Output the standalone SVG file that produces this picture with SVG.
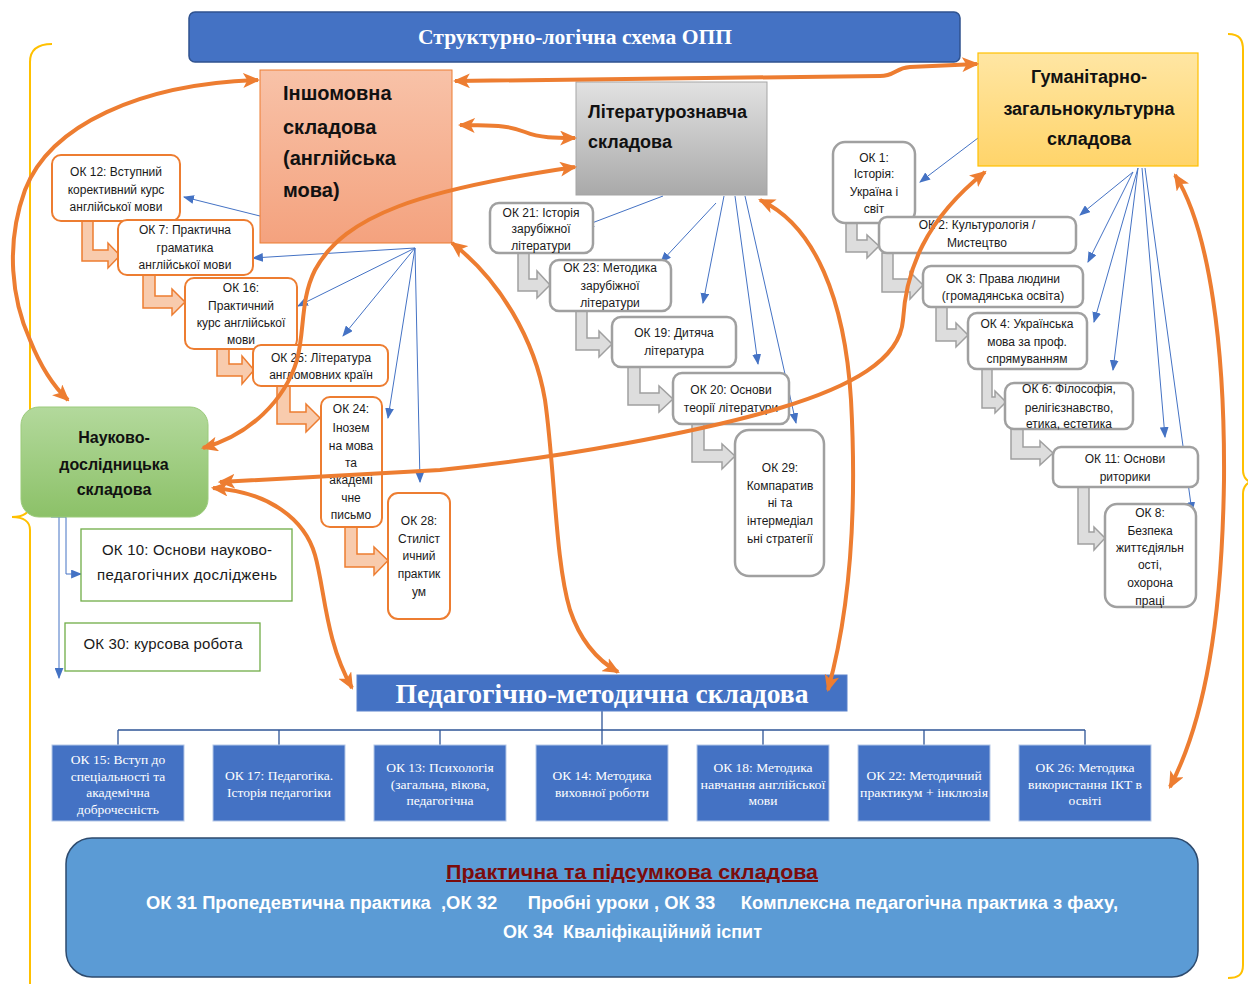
<svg xmlns="http://www.w3.org/2000/svg" width="1248" height="984" viewBox="0 0 1248 984">
<defs>
<linearGradient id="gSal" x1="0" y1="0" x2="0" y2="1"><stop offset="0" stop-color="#F8C2A8"/><stop offset="1" stop-color="#F4A27E"/></linearGradient>
<linearGradient id="gGray" x1="0" y1="0" x2="0" y2="1"><stop offset="0" stop-color="#E2E2E2"/><stop offset="1" stop-color="#A9A9A9"/></linearGradient>
<linearGradient id="gYel" x1="0" y1="0" x2="0" y2="1"><stop offset="0" stop-color="#FFE6A3"/><stop offset="1" stop-color="#FFD46A"/></linearGradient>
<linearGradient id="gGrn" x1="0" y1="0" x2="0" y2="1"><stop offset="0" stop-color="#B3D99C"/><stop offset="1" stop-color="#8CC168"/></linearGradient>
<marker id="oa" viewBox="0 0 16 14" markerUnits="userSpaceOnUse" markerWidth="17" markerHeight="15" refX="14" refY="7" orient="auto-start-reverse"><path d="M0,0 L16,7 L0,14 L4,7 Z" fill="#ED7D31"/></marker>
<marker id="ba" viewBox="0 0 10 8" markerUnits="userSpaceOnUse" markerWidth="11" markerHeight="9" refX="9" refY="4" orient="auto"><path d="M0,0 L10,4 L0,8 Z" fill="#4472C4"/></marker>
<style>
.t{font-family:"Liberation Sans",Arial,sans-serif;font-size:12px;fill:#1a1a1a;text-anchor:middle}
.t15{font-family:"Liberation Sans",Arial,sans-serif;font-size:15px;fill:#1a1a1a;text-anchor:middle}
.big{font-family:"Liberation Sans",Arial,sans-serif;font-weight:bold;fill:#111}
.ob{fill:#fff;stroke:#ED7D31;stroke-width:2}
.gb{fill:#fff;stroke:#A0A0A0;stroke-width:2.5}
.grb{fill:#fff;stroke:#70AD47;stroke-width:1.3}
.pb{fill:#4472C4;stroke:#B4C7E7;stroke-width:1}
.pt{font-family:"Liberation Serif","Times New Roman",serif;font-size:13.5px;fill:#fff;text-anchor:middle}
.oarr{fill:#F8CBAD;stroke:#ED7D31;stroke-width:1.5;stroke-linejoin:miter}
.garr{fill:#DDDDDD;stroke:#A0A0A0;stroke-width:1.5}
.bl{fill:none;stroke:#4472C4;stroke-width:1;marker-end:url(#ba)}
.or{fill:none;stroke:#ED7D31;stroke-width:4;marker-start:url(#oa);marker-end:url(#oa)}
.br{fill:none;stroke:#FFC000;stroke-width:2}
</style>
</defs>
<rect width="1248" height="984" fill="#fff"/>

<g id="braces">
<path class="br" d="M52,44 C38,44 30,50 30,62 L30,505 C30,512 24,517 12,517 C24,517 30,522 30,530 L30,984"/>
<path class="br" d="M1228,34 C1240,34 1243,40 1243,50 L1243,470 C1243,478 1248,482 1252,482 C1248,482 1243,486 1243,494 L1243,965 C1243,975 1238,978 1228,978"/>
</g>

<g id="title">
<rect x="189" y="12" width="771" height="50" rx="6" fill="#4472C4" stroke="#2F528F" stroke-width="1.5"/>
<text x="575" y="44" font-family="Liberation Serif,Times New Roman,serif" font-weight="bold" font-size="22" fill="#fff" text-anchor="middle" textLength="314" lengthAdjust="spacingAndGlyphs">Структурно-логічна схема ОПП</text>
</g>

<g id="block-arrows">
<path class="oarr" d="M82,221 L93,221 L93,250 L108,250 L108,243 L120,255.5 L108,268 L108,261 L82,261 Z"/>
<path class="oarr" d="M143,275 L155,275 L155,296 L172,296 L172,289 L185,302 L172,315 L172,308 L143,308 Z"/>
<path class="oarr" d="M217,349 L229,349 L229,364 L242,364 L242,356 L254,370 L242,384 L242,376 L217,376 Z"/>
<path class="oarr" d="M277,386 L290,386 L290,412 L306,412 L306,404 L320,418 L306,432 L306,424 L277,424 Z"/>
<path class="oarr" d="M345,527 L357,527 L357,554 L374,554 L374,547 L388,560.5 L374,575 L374,567 L345,567 Z"/>
<path class="garr" d="M518,253 L529,253 L529,279 L537,279 L537,271 L550,285 L537,298 L537,291 L518,291 Z"/>
<path class="garr" d="M576,311 L587,311 L587,338 L599,338 L599,331 L612,344 L599,357 L599,350 L576,350 Z"/>
<path class="garr" d="M628,367 L640,367 L640,393 L659,393 L659,386 L673,399 L659,412 L659,405 L628,405 Z"/>
<path class="garr" d="M692,424 L704,424 L704,450 L722,450 L722,444 L735,456 L722,469 L722,462 L692,462 Z"/>
<path class="garr" d="M846,223 L857,223 L857,240 L867,240 L867,235 L879,246 L867,258 L867,252 L846,252 Z"/>
<path class="garr" d="M882,253 L893,253 L893,279 L910,279 L910,272 L923,285 L910,299 L910,292 L882,292 Z"/>
<path class="garr" d="M936,307 L947,307 L947,329 L956,329 L956,323 L968,335 L956,347 L956,341 L936,341 Z"/>
<path class="garr" d="M982,369 L992,369 L992,397 L995,397 L995,391 L1006,402 L995,413 L995,408 L982,408 Z"/>
<path class="garr" d="M1011,429 L1023,429 L1023,447 L1040,447 L1040,441 L1053,453 L1040,465 L1040,459 L1011,459 Z"/>
<path class="garr" d="M1078,487 L1089,487 L1089,532 L1094,532 L1094,527 L1105,538 L1094,550 L1094,544 L1078,544 Z"/>
</g>

<g id="blue-connectors">
<path class="bl" d="M260,216 L184,197"/>
<path class="bl" d="M415,248 L253,258"/>
<path class="bl" d="M415,248 L298,306"/>
<path class="bl" d="M415,248 L343,336"/>
<path class="bl" d="M415,248 L388,418"/>
<path class="bl" d="M415,248 L420,482"/>
<path class="bl" d="M663,196 L584,226"/>
<path class="bl" d="M716,203 L661,262"/>
<path class="bl" d="M724,196 L703,303"/>
<path class="bl" d="M735,196 L758,364"/>
<path class="bl" d="M745,196 L796,423"/>
<path class="bl" d="M978,138 L920,182"/>
<path class="bl" d="M1133,172 L1080,215"/>
<path class="bl" d="M1133,172 L1088,262"/>
<path class="bl" d="M1138,168 L1094,322"/>
<path class="bl" d="M1138,168 L1113,370"/>
<path class="bl" d="M1142,168 L1165,437"/>
<path class="bl" d="M1145,168 L1192,512"/>
<path fill="none" stroke="#4472C4" stroke-width="1" d="M51,517 L66,517"/>
<path class="bl" d="M59,517 L59,678"/>
<path class="bl" d="M66,517 L66,574 L81,574"/>
<path fill="none" stroke="#2F5597" stroke-width="1.3" d="M602,711 L602,730 M118,730 L1085,730 M118,730 L118,745 M279,730 L279,745 M440,730 L440,745 M602,730 L602,745 M763,730 L763,745 M924,730 L924,745 M1085,730 L1085,745"/>
</g>

<g id="n-inshomovna">
<rect x="260" y="70" width="192" height="173" fill="url(#gSal)" stroke="#ED7D31" stroke-width="1"/>
<text class="big" font-size="20"><tspan x="283" y="100">Іншомовна</tspan><tspan x="283" y="134">складова</tspan><tspan x="283" y="165">(англійська</tspan><tspan x="283" y="197">мова)</tspan></text>
</g>
<g id="n-literatura">
<rect x="576" y="82" width="191" height="113" fill="url(#gGray)" stroke="#A5A5A5" stroke-width="1"/>
<text class="big" font-size="18"><tspan x="588" y="118">Літературознавча</tspan><tspan x="588" y="148">складова</tspan></text>
</g>
<g id="n-gumanitarna">
<rect x="978" y="53" width="220" height="113" fill="url(#gYel)" stroke="#FFC000" stroke-width="1.2"/>
<text class="big" font-size="18" text-anchor="middle"><tspan x="1089" y="83">Гуманітарно-</tspan><tspan x="1089" y="115">загальнокультурна</tspan><tspan x="1089" y="145">складова</tspan></text>
</g>
<g id="n-naukova">
<rect x="21" y="407" width="187" height="110" rx="18" fill="url(#gGrn)" stroke="#9BCB7B" stroke-width="1"/>
<text class="big" font-size="16" text-anchor="middle"><tspan x="114" y="443">Науково-</tspan><tspan x="114" y="470">дослідницька</tspan><tspan x="114" y="495">складова</tspan></text>
</g>

<g id="ok12"><rect class="ob" x="52" y="155" width="128" height="66" rx="9"/><text class="t"><tspan x="116" y="176">ОК 12: Вступний</tspan><tspan x="116" y="194">корективний курс</tspan><tspan x="116" y="211">англійської мови</tspan></text></g>
<g id="ok7"><rect class="ob" x="118" y="220" width="135" height="55" rx="9"/><text class="t"><tspan x="185" y="234">ОК 7: Практична</tspan><tspan x="185" y="252">граматика</tspan><tspan x="185" y="269">англійської мови</tspan></text></g>
<g id="ok16"><rect class="ob" x="185" y="278" width="112" height="71" rx="9"/><text class="t"><tspan x="241" y="292">ОК 16:</tspan><tspan x="241" y="310">Практичний</tspan><tspan x="241" y="327">курс англійської</tspan><tspan x="241" y="344">мови</tspan></text></g>
<g id="ok25"><rect class="ob" x="253" y="345" width="135" height="41" rx="8"/><text class="t"><tspan x="321" y="362">ОК 25: Література</tspan><tspan x="321" y="379">англомовних країн</tspan></text></g>
<g id="ok24"><rect class="ob" x="321" y="397" width="61" height="130" rx="9"/><text class="t"><tspan x="351" y="413">ОК 24:</tspan><tspan x="351" y="432">Інозем</tspan><tspan x="351" y="450">на мова</tspan><tspan x="351" y="467">та</tspan><tspan x="351" y="484">академі</tspan><tspan x="351" y="502">чне</tspan><tspan x="351" y="519">письмо</tspan></text></g>
<g id="ok28"><rect class="ob" x="388" y="493" width="62" height="126" rx="10"/><text class="t"><tspan x="419" y="525">ОК 28:</tspan><tspan x="419" y="543">Стиліст</tspan><tspan x="419" y="560">ичний</tspan><tspan x="419" y="578">практик</tspan><tspan x="419" y="596">ум</tspan></text></g>

<g id="ok21"><rect class="gb" x="490" y="203" width="103" height="50" rx="9"/><text class="t"><tspan x="541" y="217">ОК 21: Історія</tspan><tspan x="541" y="233">зарубіжної</tspan><tspan x="541" y="250">літератури</tspan></text></g>
<g id="ok23"><rect class="gb" x="550" y="260" width="121" height="51" rx="9"/><text class="t"><tspan x="610" y="272">ОК 23: Методика</tspan><tspan x="610" y="290">зарубіжної</tspan><tspan x="610" y="307">літератури</tspan></text></g>
<g id="ok19"><rect class="gb" x="612" y="317" width="124" height="50" rx="9"/><text class="t"><tspan x="674" y="337">ОК 19: Дитяча</tspan><tspan x="674" y="355">література</tspan></text></g>
<g id="ok20"><rect class="gb" x="673" y="373" width="116" height="51" rx="9"/><text class="t"><tspan x="731" y="394">ОК 20: Основи</tspan><tspan x="731" y="412">теорії літератури</tspan></text></g>
<g id="ok29"><rect class="gb" x="735" y="430" width="89" height="146" rx="14"/><text class="t"><tspan x="780" y="472">ОК 29:</tspan><tspan x="780" y="490">Компаратив</tspan><tspan x="780" y="507">ні та</tspan><tspan x="780" y="525">інтермедіал</tspan><tspan x="780" y="543">ьні стратегії</tspan></text></g>

<g id="ok1"><rect class="gb" x="833" y="142" width="82" height="81" rx="12"/><text class="t"><tspan x="874" y="162">ОК 1:</tspan><tspan x="874" y="178">Історія:</tspan><tspan x="874" y="196">Україна і</tspan><tspan x="874" y="213">світ</tspan></text></g>
<g id="ok2"><rect class="gb" x="879" y="217" width="197" height="36" rx="8"/><text class="t"><tspan x="977" y="229">ОК 2: Культурологія /</tspan><tspan x="977" y="247">Мистецтво</tspan></text></g>
<g id="ok3"><rect class="gb" x="923" y="266" width="160" height="41" rx="8"/><text class="t"><tspan x="1003" y="283">ОК 3: Права людини</tspan><tspan x="1003" y="300">(громадянська освіта)</tspan></text></g>
<g id="ok4"><rect class="gb" x="968" y="313" width="119" height="56" rx="9"/><text class="t"><tspan x="1027" y="328">ОК 4: Українська</tspan><tspan x="1027" y="346">мова за проф.</tspan><tspan x="1027" y="363">спрямуванням</tspan></text></g>
<g id="ok6"><rect class="gb" x="1005" y="383" width="128" height="46" rx="9"/><text class="t"><tspan x="1069" y="393">ОК 6: Філософія,</tspan><tspan x="1069" y="412">релігієзнавство,</tspan><tspan x="1069" y="428">етика, естетика</tspan></text></g>
<g id="ok11"><rect class="gb" x="1053" y="447" width="145" height="40" rx="8"/><text class="t"><tspan x="1125" y="463">ОК 11: Основи</tspan><tspan x="1125" y="481">риторики</tspan></text></g>
<g id="ok8"><rect class="gb" x="1105" y="504" width="91" height="103" rx="12"/><text class="t"><tspan x="1150" y="517">ОК 8:</tspan><tspan x="1150" y="535">Безпека</tspan><tspan x="1150" y="552">життєдіяльн</tspan><tspan x="1150" y="569">ості,</tspan><tspan x="1150" y="587">охорона</tspan><tspan x="1150" y="605">праці</tspan></text></g>

<g id="ok10"><rect class="grb" x="81" y="529" width="211" height="72"/><text class="t15"><tspan x="187" y="555" textLength="170">ОК 10: Основи науково-</tspan><tspan x="187" y="580" textLength="180">педагогічних досліджень</tspan></text></g>
<g id="ok30"><rect class="grb" x="65" y="623" width="195" height="48"/><text class="t15"><tspan x="163" y="649" textLength="159">ОК 30: курсова робота</tspan></text></g>

<g id="n-pedagogichna">
<rect x="357" y="675" width="490" height="36" fill="#4472C4" stroke="#5B82CC" stroke-width="1"/>
<text x="602" y="703" font-family="Liberation Serif,Times New Roman,serif" font-weight="bold" font-size="27" fill="#fff" text-anchor="middle" textLength="413" lengthAdjust="spacingAndGlyphs">Педагогічно-методична складова</text>
</g>
<g id="ok15"><rect class="pb" x="52" y="745" width="132" height="76"/><text class="pt"><tspan x="118" y="764">ОК 15: Вступ до</tspan><tspan x="118" y="781">спеціальності та</tspan><tspan x="118" y="797">академічна</tspan><tspan x="118" y="814">доброчесність</tspan></text></g>
<g id="ok17"><rect class="pb" x="213" y="745" width="132" height="76"/><text class="pt"><tspan x="279" y="780">ОК 17: Педагогіка.</tspan><tspan x="279" y="797">Історія педагогіки</tspan></text></g>
<g id="ok13"><rect class="pb" x="374" y="745" width="132" height="76"/><text class="pt"><tspan x="440" y="772">ОК 13: Психологія</tspan><tspan x="440" y="789">(загальна, вікова,</tspan><tspan x="440" y="805">педагогічна</tspan></text></g>
<g id="ok14"><rect class="pb" x="536" y="745" width="132" height="76"/><text class="pt"><tspan x="602" y="780">ОК 14: Методика</tspan><tspan x="602" y="797">виховної роботи</tspan></text></g>
<g id="ok18"><rect class="pb" x="697" y="745" width="132" height="76"/><text class="pt"><tspan x="763" y="772">ОК 18: Методика</tspan><tspan x="763" y="789" textLength="125" lengthAdjust="spacingAndGlyphs">навчання англійської</tspan><tspan x="763" y="805">мови</tspan></text></g>
<g id="ok22"><rect class="pb" x="858" y="745" width="132" height="76"/><text class="pt"><tspan x="924" y="780">ОК 22: Методичний</tspan><tspan x="924" y="797" textLength="128" lengthAdjust="spacingAndGlyphs">практикум + інклюзія</tspan></text></g>
<g id="ok26"><rect class="pb" x="1019" y="745" width="132" height="76"/><text class="pt"><tspan x="1085" y="772">ОК 26: Методика</tspan><tspan x="1085" y="789">використання ІКТ в</tspan><tspan x="1085" y="805">освіті</tspan></text></g>

<g id="n-praktychna">
<rect x="66" y="838" width="1132" height="139" rx="26" fill="#5B9BD5" stroke="#2E4B6E" stroke-width="1.5"/>
<text x="632" y="879" font-family="Liberation Sans,Arial,sans-serif" font-weight="bold" font-size="20" fill="#7B0C0C" text-anchor="middle" text-decoration="underline" textLength="372" lengthAdjust="spacingAndGlyphs">Практична та підсумкова складова</text>
<text x="146" y="909" xml:space="preserve" font-family="Liberation Sans,Arial,sans-serif" font-weight="bold" font-size="18" fill="#fff" textLength="972" lengthAdjust="spacingAndGlyphs">ОК 31 Пропедевтична практика  ,ОК 32      Пробні уроки , ОК 33     Комплексна педагогічна практика з фаху,</text>
<text x="503" y="938" xml:space="preserve" font-family="Liberation Sans,Arial,sans-serif" font-weight="bold" font-size="18" fill="#fff" textLength="259" lengthAdjust="spacingAndGlyphs">ОК 34  Кваліфікаційний іспит</text>
</g>

<g id="orange-connectors">
<path class="or" d="M68,400 C52,385 40,365 30,340 C12,300 5,245 25,190 C50,125 140,84 258,80"/>
<path class="or" d="M455,81 L880,76 C895,76 895,68 910,67 L977,64"/>
<path class="or" d="M460,125 C490,126 505,124 525,132 C540,138 555,138 575,138"/>
<path class="or" d="M203,448 C250,435 285,400 297,360 C305,330 300,300 315,270 C345,215 420,190 575,167"/>
<path class="or" d="M220,482 L440,470 C560,458 700,432 780,408 C850,387 900,360 903,320 C906,270 925,220 985,172"/>
<path class="or" d="M452,243 C500,280 535,340 545,400 C555,470 555,560 570,610 C580,640 597,660 618,672"/>
<path class="or" d="M213,488 C270,492 305,520 315,555 C325,590 325,640 352,688"/>
<path class="or" d="M760,200 C815,225 845,300 851,400 C857,510 850,610 828,690"/>
<path class="or" d="M1175,175 C1210,230 1225,350 1224,480 C1222,620 1205,720 1170,787"/>
</g>
</svg>
